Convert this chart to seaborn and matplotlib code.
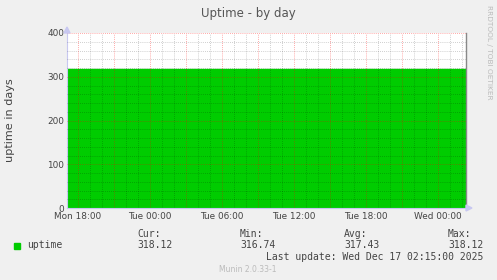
import matplotlib
matplotlib.use("Agg")
import matplotlib.pyplot as plt
import seaborn as sns
import numpy as np
import pandas as pd

# Data (hours relative to Mon 18:00)
hours = [-0.92, 11.5, 11.5, 32.33]
uptime_days = [316.74, 316.74, 318.12, 318.12]
xtick_hours = [0, 6, 12, 18, 24, 30]
xtick_labels = ["Mon 18:00", "Tue 00:00", "Tue 06:00", "Tue 12:00", "Tue 18:00", "Wed 00:00"]
ytick_values = [0, 100, 200, 300, 400]
legend_name = "uptime"
stat_names = ["Cur:", "Min:", "Avg:", "Max:"]
stat_values = ["318.12", "316.74", "317.43", "318.12"]

sns.set_style("white")
plt.rcParams['font.family'] = ['DejaVu Sans']

W, H = 497, 280
fig = plt.figure(figsize=(W / 100, H / 100), dpi=100, facecolor="#F0F0F0")
x0, x1, ytop, ybot = 67, 466, 33, 208
ax = fig.add_axes([x0 / W, 1 - ybot / H, (x1 - x0) / W, (ybot - ytop) / H])
ax.set_facecolor("white")

df = pd.DataFrame({"h": hours, "v": uptime_days})
ax.fill_between(df["h"], 0, df["v"], color="#00CC00", linewidth=0, zorder=1)
sns.lineplot(data=df, x="h", y="v", ax=ax, color="#00CC00", linewidth=1, zorder=2,
             estimator=None, sort=False)

xmin, xmax = -0.92, 32.33
ax.set_xlim(xmin, xmax)
ax.set_ylim(0, 400)

# grids
dots = (0, (1, 1.5))
for h in np.arange(-0.0, xmax, 1.0):
    if h % 3:
        ax.axvline(h, color="black", alpha=0.25, lw=0.6, ls=dots, zorder=3)
for h in np.arange(0, xmax, 3.0):
    ax.axvline(h, color="#FF0000", alpha=0.45, lw=0.6, ls=dots, zorder=4)
for v in np.arange(20, 401, 20):
    if v % 100:
        ax.axhline(v, color="black", alpha=0.25, lw=0.6, ls=dots, zorder=3)
for v in [100, 200, 300, 400]:
    ax.axhline(v, color="#FF0000", alpha=0.45, lw=0.6, ls=dots, zorder=4)

ax.set_xticks(xtick_hours)
ax.set_xticklabels(xtick_labels)
ax.set_yticks(ytick_values)
ax.tick_params(axis="both", labelsize=6.4, length=0, pad=2)
ax.tick_params(axis="x", pad=3)
for lbl in ax.get_xticklabels() + ax.get_yticklabels():
    lbl.set_color("#444444")
ax.set_xlabel("")
ax.set_ylabel("")

ax.spines["top"].set_visible(False)
ax.spines["right"].set_color("#888888")
ax.spines["right"].set_linewidth(1)
ax.spines["left"].set_color("#C8C8F0")
ax.spines["bottom"].set_color("#C8C8F0")
ax.spines["left"].set_linewidth(0.8)
ax.spines["bottom"].set_linewidth(0.8)

# axis arrows
fig.patches.append(plt.Polygon([[x0 / W, 1 - 27 / H], [(x0 - 3) / W, 1 - 33 / H], [(x0 + 3) / W, 1 - 33 / H]],
                               transform=fig.transFigure, color="#C8C8F0", closed=True))
fig.patches.append(plt.Polygon([[472 / W, 1 - ybot / H], [466 / W, 1 - (ybot - 3) / H], [466 / W, 1 - (ybot + 3) / H]],
                               transform=fig.transFigure, color="#C8C8F0", closed=True))

def T(x, y, s, **kw):
    fig.text(x / W, 1 - y / H, s, **kw)

T(248, 13, "Uptime - by day", ha="center", va="center", fontsize=8.5, color="#555555")
T(10, 120, "uptime in days", ha="center", va="center", rotation=90, fontsize=8.1, color="#444444")
T(489, 5, "RRDTOOL / TOBI OETIKER", ha="center", va="top", rotation=-90, fontsize=5.3, color="#BBBBBB")

mono = dict(family="DejaVu Sans Mono", fontsize=7, color="#444444", va="center")
fig.patches.append(plt.Rectangle((14 / W, 1 - 249 / H), 6 / W, 6 / H, transform=fig.transFigure,
                                 color="#00CC00"))
T(27, 245, legend_name, ha="left", **mono)
for xs, n, v in zip([137, 240, 344, 448], stat_names, stat_values):
    T(xs, 234, n, ha="left", **mono)
    T(xs, 245, v, ha="left", **mono)
T(483, 257, "Last update: Wed Dec 17 02:15:00 2025", ha="right", **mono)
T(248, 269, "Munin 2.0.33-1", ha="center", va="center", fontsize=5.5, color="#BBBBBB")

fig.savefig("out.png", dpi=100, facecolor=fig.get_facecolor())
